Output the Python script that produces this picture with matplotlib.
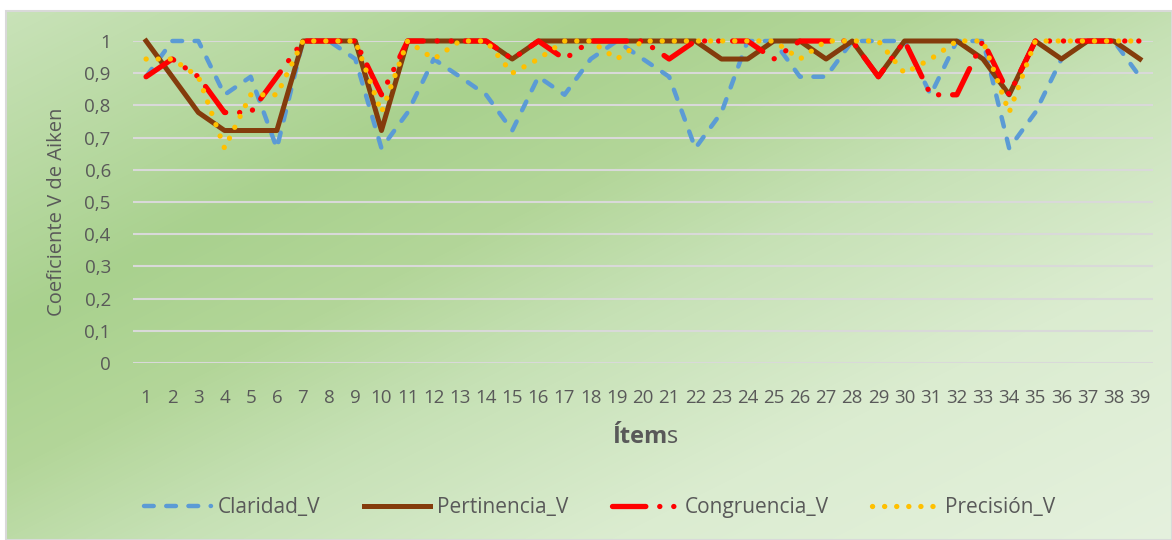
import numpy as np
import matplotlib
matplotlib.use("Agg")
import matplotlib.pyplot as plt
from matplotlib.colors import LinearSegmentedColormap
from matplotlib.patches import Rectangle

items = list(range(1, 40))

claridad = [0.889, 1, 1, 0.833, 0.889, 0.667, 1, 1, 0.944, 0.667,
			0.778, 0.944, 0.889, 0.833, 0.722, 0.889, 0.833, 0.944, 1, 0.944,
			0.889, 0.667, 0.778, 1, 1, 0.889, 0.889, 1, 1, 1,
			0.833, 1, 1, 0.667, 0.778, 0.944, 1, 1, 0.889]
pertinencia = [1, 0.889, 0.778, 0.722, 0.722, 0.722, 1, 1, 1, 0.722,
			1, 1, 1, 1, 0.944, 1, 1, 1, 1, 1,
			1, 1, 0.944, 0.944, 1, 1, 0.944, 1, 0.889, 1,
			1, 1, 0.944, 0.833, 1, 0.944, 1, 1, 0.944]
congruencia = [0.889, 0.944, 0.889, 0.778, 0.778, 0.889, 1, 1, 1, 0.833,
			1, 1, 1, 1, 0.944, 1, 0.944, 1, 1, 1,
			0.944, 1, 1, 1, 0.944, 1, 1, 1, 0.889, 1,
			0.833, 0.833, 1, 0.833, 1, 1, 1, 1, 1]
precision = [0.944, 0.944, 0.889, 0.667, 0.833, 0.833, 1, 1, 1, 0.778,
			1, 0.944, 1, 1, 0.9, 0.944, 1, 1, 0.944, 1,
			1, 1, 1, 1, 1, 0.944, 1, 1, 1, 0.9,
			0.944, 1, 1, 0.778, 1, 1, 1, 1, 1]

series_names = ["Claridad_V", "Pertinencia_V", "Congruencia_V", "Precisión_V"]
y_ticks = [0, 0.1, 0.2, 0.3, 0.4, 0.5, 0.6, 0.7, 0.8, 0.9, 1]
y_labels = ["0", "0,1", "0,2", "0,3", "0,4", "0,5", "0,6", "0,7", "0,8", "0,9", "1"]

plt.rcParams["font.family"] = ["Open Sans", "DejaVu Sans"]
plt.rcParams["lines.scale_dashes"] = False
text_color = "#595959"

W, H = 1172, 540
fig = plt.figure(figsize=(W / 100, H / 100), dpi=100)
fig.patch.set_facecolor("white")

# diagonal green gradient behind the whole chart area
yy, xx = np.mgrid[11:H, 6:W]
t = np.clip((0.5 * xx + yy) / 1126.0, 0, 1)
bg = LinearSegmentedColormap.from_list("bg", [(0, "#CAE3BA"), (0.29, "#A9D18E"), (0.42, "#B3D699"),
											  (0.55, "#C6E1B5"), (0.75, "#DBECD0"), (1, "#E5F1DE")])
fig.figimage(bg(t), xo=6, yo=0, origin="upper", zorder=-10)
fig.patches.append(Rectangle((6 / W, 0), 1 - 6 / W, 1 - 11 / H, transform=fig.transFigure,
							 fill=False, edgecolor="#D9D9D9", lw=1.5, zorder=-5))

ax = fig.add_axes([133 / W, 1 - 363 / H, (1153 - 133) / W, (363 - 41) / H])
ax.set_facecolor("none")
ax.set_xlim(0.5, 39.5)
ax.set_ylim(0, 1)
for s in ax.spines.values():
	s.set_visible(False)

ax.set_yticks(y_ticks)
ax.set_yticklabels(y_labels)
ax.set_xticks(items)
ax.set_xticklabels([str(i) for i in items])
ax.yaxis.grid(True, color="#D9D9D9", lw=1.5)
ax.set_axisbelow(True)
ax.tick_params(axis="y", length=0, labelsize=13.5, labelcolor=text_color, pad=16)
ax.tick_params(axis="x", length=0, labelsize=13.5, labelcolor=text_color, pad=19)

ax.plot(items, claridad, color="#5B9BD5", lw=3.2, ls=(0, (7, 9)), dash_capstyle="round",
		label=series_names[0], clip_on=False)
ax.plot(items, pertinencia, color="#843C0C", lw=3.6, solid_joinstyle="round",
		label=series_names[1], clip_on=False)
ax.plot(items, congruencia, color="#FF0000", lw=3.8, ls=(0, (24, 10, 0.1, 10, 0.1, 10)),
		dash_capstyle="round", dash_joinstyle="round", label=series_names[2], clip_on=False)
ax.plot(items, precision, color="#FFC000", lw=3.8, ls=(0, (0.1, 8.6)), dash_capstyle="round",
		label=series_names[3], clip_on=False)

fig.text(57 / W, 1 - 212 / H, "Coeficiente V de Aiken", rotation=90, ha="center", va="center",
		 fontsize=14.5, color=text_color)

# "Ítem" in bold, the trailing "s" in regular weight
t1 = fig.text(612 / W, 1 - 437 / H, "Ítem", fontsize=17, weight="bold", color=text_color,
			  ha="left", va="center")
ax.annotate("s", xy=(1, 0), xycoords=t1, ha="left", va="bottom", fontsize=17, color=text_color,
			annotation_clip=False)

fig.legend(loc="center", bbox_to_anchor=(600 / W, 1 - 508 / H), ncol=4, frameon=False,
		   fontsize=15, handlelength=3.2, columnspacing=2.1, handletextpad=0.3,
		   labelcolor=text_color)

fig.savefig("out.png", dpi=100)
